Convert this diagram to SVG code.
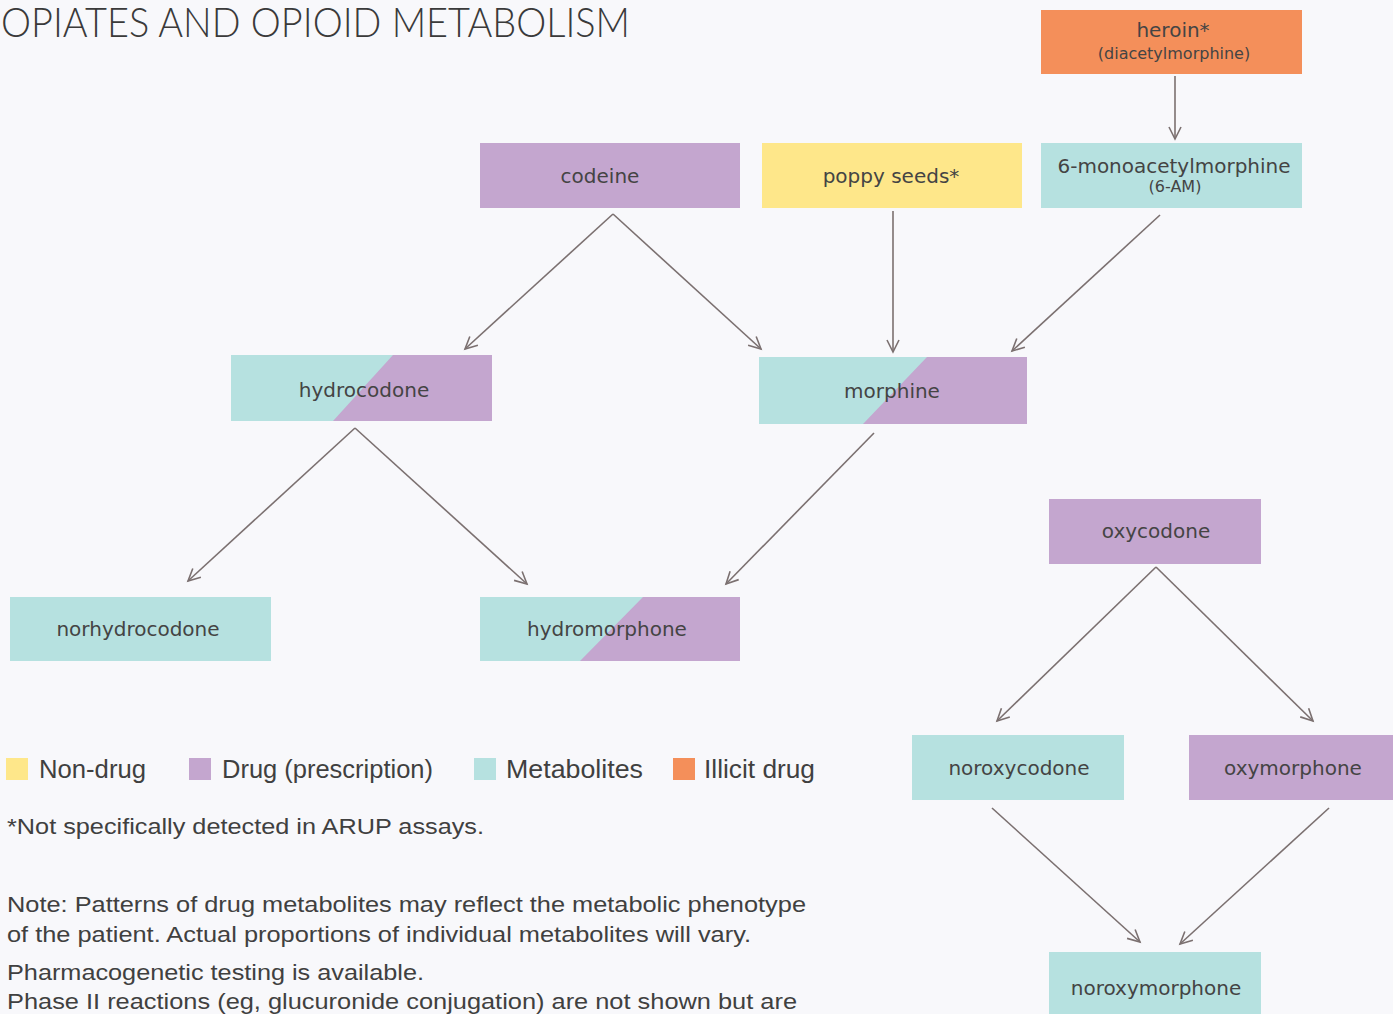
<svg xmlns="http://www.w3.org/2000/svg" width="1393" height="1014" viewBox="0 0 1393 1014">
<style>
.bg{fill:#f8f8fb}
.teal{fill:#b6e1e0}
.purple{fill:#c4a6cf}
.yellow{fill:#fee78a}
.orange{fill:#f48f5a}
.lbl{font-family:"DejaVu Sans",sans-serif;font-size:20px;fill:#444444;text-anchor:middle}
.sub{font-family:"DejaVu Sans",sans-serif;font-size:16px;fill:#444444;text-anchor:middle}
.leg{font-family:"Liberation Sans Narrow","Liberation Sans",sans-serif;font-size:26px;fill:#404040}
.note{font-family:"Liberation Sans",sans-serif;font-size:22px;fill:#404040}
.edge{stroke:#7b7070;stroke-width:1.6;fill:none;marker-end:url(#arr)}
</style>
<defs>
<marker id="arr" markerUnits="userSpaceOnUse" markerWidth="16" markerHeight="16" refX="13" refY="7" orient="auto" viewBox="0 0 16 14">
<path d="M1,1 L13,7 L1,13" fill="none" stroke="#7b7070" stroke-width="1.6"/>
</marker>
</defs>
<rect class="bg" x="0" y="0" width="1393" height="1014"/>
<text x="1" y="37" font-family="Lato,'DejaVu Sans',sans-serif" font-weight="300" font-size="42" fill="#3a3a3a" textLength="629" lengthAdjust="spacingAndGlyphs">OPIATES AND OPIOID METABOLISM</text>

<g id="connectors">
<line class="edge" x1="1175" y1="76" x2="1175" y2="139"/>
<line class="edge" x1="613" y1="214" x2="465" y2="349"/>
<line class="edge" x1="613" y1="214" x2="761" y2="349"/>
<line class="edge" x1="893" y1="211" x2="893" y2="352"/>
<line class="edge" x1="1160" y1="215" x2="1012" y2="351"/>
<line class="edge" x1="355" y1="428" x2="188" y2="581"/>
<line class="edge" x1="355" y1="428" x2="527" y2="584"/>
<line class="edge" x1="874" y1="433" x2="726" y2="584"/>
<line class="edge" x1="1156" y1="567" x2="997" y2="721"/>
<line class="edge" x1="1156" y1="567" x2="1313" y2="721"/>
<line class="edge" x1="992" y1="808" x2="1140" y2="942"/>
<line class="edge" x1="1329" y1="808" x2="1180" y2="944"/>
</g>

<g id="heroin">
<rect class="orange" x="1041" y="10" width="261" height="64"/>
<text class="lbl" x="1173" y="37">heroin*</text>
<text class="sub" x="1174" y="59">(diacetylmorphine)</text>
</g>
<g id="mam">
<rect class="teal" x="1041" y="143" width="261" height="65"/>
<text class="lbl" x="1174" y="173" textLength="233" lengthAdjust="spacingAndGlyphs">6-monoacetylmorphine</text>
<text class="sub" x="1175" y="192" font-size="14">(6-AM)</text>
</g>
<g id="codeine">
<rect class="purple" x="480" y="143" width="260" height="65"/>
<text class="lbl" x="600" y="183">codeine</text>
</g>
<g id="poppy">
<rect class="yellow" x="762" y="143" width="260" height="65"/>
<text class="lbl" x="891" y="183">poppy seeds*</text>
</g>
<g id="hydrocodone">
<rect class="teal" x="231" y="355" width="261" height="66"/>
<polygon class="purple" points="393,355 492,355 492,421 333,421"/>
<text class="lbl" x="364" y="397">hydrocodone</text>
</g>
<g id="morphine">
<rect class="teal" x="759" y="357" width="268" height="67"/>
<polygon class="purple" points="927,357 1027,357 1027,424 863,424"/>
<text class="lbl" x="892" y="398">morphine</text>
</g>
<g id="norhydrocodone">
<rect class="teal" x="10" y="597" width="261" height="64"/>
<text class="lbl" x="138" y="636">norhydrocodone</text>
</g>
<g id="hydromorphone">
<rect class="teal" x="480" y="597" width="260" height="64"/>
<polygon class="purple" points="643,597 740,597 740,661 580,661"/>
<text class="lbl" x="607" y="636">hydromorphone</text>
</g>
<g id="oxycodone">
<rect class="purple" x="1049" y="499" width="212" height="65"/>
<text class="lbl" x="1156" y="538">oxycodone</text>
</g>
<g id="noroxycodone">
<rect class="teal" x="912" y="735" width="212" height="65"/>
<text class="lbl" x="1019" y="775">noroxycodone</text>
</g>
<g id="oxymorphone">
<rect class="purple" x="1189" y="735" width="204" height="65"/>
<text class="lbl" x="1293" y="775">oxymorphone</text>
</g>
<g id="noroxymorphone">
<rect class="teal" x="1049" y="952" width="212" height="62"/>
<text class="lbl" x="1156" y="995">noroxymorphone</text>
</g>

<g id="legend">
<rect class="yellow" x="6" y="758" width="22" height="22"/>
<text class="leg" x="39" y="778" textLength="107" lengthAdjust="spacingAndGlyphs">Non-drug</text>
<rect class="purple" x="189" y="758" width="22" height="22"/>
<text class="leg" x="222" y="778" textLength="211" lengthAdjust="spacingAndGlyphs">Drug (prescription)</text>
<rect class="teal" x="474" y="758" width="22" height="22"/>
<text class="leg" x="506" y="778" textLength="137" lengthAdjust="spacingAndGlyphs">Metabolites</text>
<rect class="orange" x="673" y="758" width="22" height="22"/>
<text class="leg" x="704" y="778" textLength="111" lengthAdjust="spacingAndGlyphs">Illicit drug</text>
</g>

<g id="notes">
<text class="note" x="7" y="834" textLength="477" lengthAdjust="spacingAndGlyphs">*Not specifically detected in ARUP assays.</text>
<text class="note" x="7" y="912" textLength="799" lengthAdjust="spacingAndGlyphs">Note: Patterns of drug metabolites may reflect the metabolic phenotype</text>
<text class="note" x="7" y="942" textLength="744" lengthAdjust="spacingAndGlyphs">of the patient. Actual proportions of individual metabolites will vary.</text>
<text class="note" x="7" y="980" textLength="417" lengthAdjust="spacingAndGlyphs">Pharmacogenetic testing is available.</text>
<text class="note" x="7" y="1009" textLength="790" lengthAdjust="spacingAndGlyphs">Phase II reactions (eg, glucuronide conjugation) are not shown but are</text>
</g>
</svg>
